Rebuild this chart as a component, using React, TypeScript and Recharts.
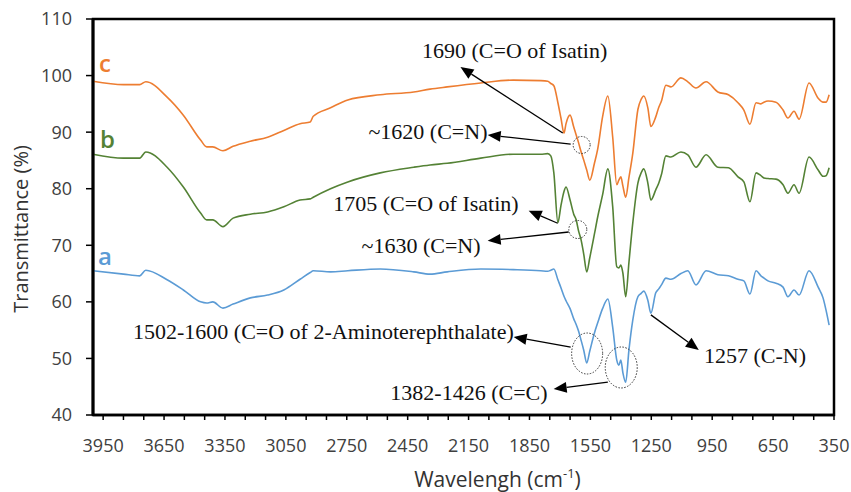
import React from "react";
import {
  LineChart,
  Line,
  XAxis,
  YAxis,
  ReferenceLine,
  ReferenceDot,
  ReferenceArea,
} from "recharts";

// wavenumber (cm-1) sample points, high to low
const wavenumbers = [
  4000, 3850, 3770, 3740, 3635, 3555, 3470, 3440, 3410, 3360,
  3310, 3225, 3140, 3060, 2980, 2930, 2915, 2830, 2745, 2585,
  2420, 2340, 2255, 2090, 1930, 1795, 1760, 1745, 1730, 1710,
  1695, 1680, 1670, 1650, 1632, 1620, 1608, 1598, 1583, 1568,
  1553, 1530, 1514, 1490, 1464, 1440, 1420, 1410, 1400, 1390,
  1376, 1360, 1341, 1316, 1300, 1287, 1267, 1252, 1228, 1213,
  1200, 1178, 1153, 1104, 1070, 1030, 980, 922, 870, 823,
  794, 764, 734, 710, 695, 675, 636, 601, 577, 547,
  522, 473, 428, 404, 389, 374,
];

// a: 2-aminoterephthalate framework
const seriesA = [
  65.5, 64.9, 64.6, 65.6, 63.9, 62.1, 60.0, 59.8, 60.0, 58.9,
  59.6, 60.7, 61.2, 62.1, 64.0, 65.2, 65.5, 65.3, 65.5, 65.8,
  65.3, 64.9, 65.3, 65.8, 65.7, 65.5, 65.4, 65.6, 65.8, 63.9,
  62.5, 61.0, 60.2, 58.8, 57.0, 56.0, 54.8, 53.5, 51.5, 49.2,
  51.3, 54.5, 56.3, 58.8, 60.5, 55.5, 49.7, 48.8, 49.7, 47.5,
  45.8, 51.5, 56.8, 60.9, 61.5, 61.9, 60.3, 58.0, 61.6, 62.3,
  63.0, 64.2, 64.0, 65.0, 65.5, 63.0, 65.5, 64.8, 64.6, 64.0,
  63.7, 61.4, 65.5, 64.6, 64.2, 63.7, 63.3, 62.6, 60.9, 62.1,
  61.2, 65.5, 62.6, 60.7, 58.5, 55.9,
];

// b
const seriesB = [
  86.1, 85.4, 85.4, 86.5, 83.8, 80.3, 75.7, 74.5, 74.5, 73.3,
  74.8, 75.5, 75.9, 76.8, 78.0, 78.2, 78.5, 80.0, 81.2, 82.8,
  83.8, 84.2, 84.5, 85.4, 86.1, 86.1, 86.2, 85.8, 82.8, 74.0,
  77.0, 79.5, 80.3, 78.0, 75.5, 74.5, 72.5, 71.3, 68.5, 65.3,
  67.8, 72.0, 75.0, 78.9, 83.5, 76.8, 66.2, 66.0, 66.5, 65.1,
  60.9, 67.0, 74.0, 81.0, 82.8, 83.5, 81.0, 78.0, 79.8, 81.0,
  82.5, 85.8, 85.6, 86.5, 86.0, 83.8, 86.0, 83.8, 83.7, 82.1,
  81.2, 77.7, 82.8, 82.3, 81.9, 81.8, 81.7, 80.7, 79.2, 80.7,
  79.2, 85.6, 83.3, 82.2, 82.3, 83.7,
];

// c
const seriesC = [
  99.0, 98.4, 98.4, 98.9, 96.2, 93.0, 88.6, 87.4, 87.4, 86.7,
  87.5, 88.4, 89.1, 90.3, 91.5, 91.8, 92.8, 94.3, 95.7, 96.6,
  97.1, 97.6, 98.0, 98.7, 99.2, 99.1, 99.0, 98.6, 98.2, 95.2,
  92.5, 89.8, 91.5, 93.0, 90.9, 89.5, 88.1, 86.8, 85.1, 83.3,
  81.5, 84.5, 87.0, 92.7, 96.4, 89.1, 80.7, 81.5, 82.1, 80.5,
  78.5, 82.0, 86.3, 94.0, 95.8, 96.4, 94.3, 91.0, 92.7, 94.4,
  95.5, 98.3, 98.0, 99.6, 98.9, 97.8, 98.9, 97.1, 96.6, 95.2,
  93.9, 91.4, 95.2, 95.0, 95.3, 95.5, 95.3, 93.9, 92.5, 93.7,
  92.3, 98.7, 96.0, 95.3, 95.3, 96.6,
];

const xTicks = [
  3950, 3850, 3750, 3650, 3550, 3450, 3350, 3250, 3150, 3050,
  2950, 2850, 2750, 2650, 2550, 2450, 2350, 2250, 2150, 2050,
  1950, 1850, 1750, 1650, 1550, 1450, 1350, 1250, 1150, 1050,
  950, 850, 750, 650, 550, 450, 350,
];
const xLabels = [3950, 3650, 3350, 3050, 2750, 2450, 2150, 1850, 1550, 1250, 950, 650, 350];
const yTicks = [40, 50, 60, 70, 80, 90, 100, 110];

// annotation text (anchored at middle of baseline, data units)
const notes = [
  { text: "1690 (C=O of Isatin)", w: 1923, t: 103.1 },
  { text: "~1620 (C=N)", w: 2350, t: 88.8 },
  { text: "1705 (C=O of Isatin)", w: 2360, t: 76.1 },
  { text: "~1630 (C=N)", w: 2384, t: 68.6 },
  { text: "1502-1600 (C=O of 2-Aminoterephthalate)", w: 2865, t: 53.4 },
  { text: "1382-1426 (C=C)", w: 2148, t: 42.65 },
  { text: "1257 (C-N)", w: 739, t: 49.2 },
];

// arrows: tail -> head
const arrows = [
  { w1: 1686, t1: 89.85, w2: 2190, t2: 101.5 },
  { w1: 1647, t1: 87.9, w2: 2056, t2: 89.5 },
  { w1: 1711, t1: 73.9, w2: 1854, t2: 76.1 },
  { w1: 1657, t1: 72.35, w2: 2056, t2: 70.8 },
  { w1: 1647, t1: 52.0, w2: 1928, t2: 53.8 },
  { w1: 1464, t1: 45.8, w2: 1731, t2: 44.6 },
  { w1: 1252, t1: 57.7, w2: 1016, t2: 51.5 },
];

// dotted circles around bands (rx, ry in px)
const rings = [
  { w: 1593, t: 87.73, rx: 8.5, ry: 8.5 },
  { w: 1612, t: 72.79, rx: 9, ry: 9 },
  { w: 1566, t: 50.87, rx: 15.5, ry: 20.5 },
  { w: 1398, t: 48.4, rx: 16, ry: 20.5 },
];

const seriesLabels = [
  { text: "c", w: 3970, t: 100.6, color: "#ED7D31" },
  { text: "b", w: 3965, t: 87.2, color: "#548235" },
  { text: "a", w: 3975, t: 66.5, color: "#5B9BD5" },
];

const data = wavenumbers.map((w, i) => ({
  w,
  a: seriesA[i],
  b: seriesB[i],
  c: seriesC[i],
}));

const SANS = "'Open Sans', sans-serif";
const SERIF = "'Liberation Serif', 'Times New Roman', serif";

const Arrow = (props: any) => {
  const { x1, y1, x2, y2 } = props;
  const ang = Math.atan2(y2 - y1, x2 - x1);
  const len = 13;
  const half = 5.5;
  const bx = x2 - len * Math.cos(ang);
  const by = y2 - len * Math.sin(ang);
  const px = -Math.sin(ang) * half;
  const py = Math.cos(ang) * half;
  return (
    <g>
      <line x1={x1} y1={y1} x2={bx} y2={by} stroke="#000" strokeWidth={1.3} />
      <polygon
        points={`${x2},${y2} ${bx + px},${by + py} ${bx - px},${by - py}`}
        fill="#000"
      />
    </g>
  );
};

const XTick = (props: any) => {
  const { x, y, payload } = props;
  if (!xLabels.includes(payload.value)) return <g />;
  return (
    <text
      x={x}
      y={y + 30}
      textAnchor="middle"
      fontFamily={SANS}
      fontSize={18}
      fill="#404040"
    >
      {payload.value}
    </text>
  );
};

const yTitle = (props: any) => {
  const vb = props.viewBox;
  const cx = 28;
  const cy = vb.y + vb.height / 2 + 12;
  return (
    <text
      x={cx}
      y={cy}
      transform={`rotate(-90, ${cx}, ${cy})`}
      textAnchor="middle"
      fontFamily={SANS}
      fontSize={20}
      fill="#333"
    >
      Transmittance (%)
    </text>
  );
};

const xTitle = (props: any) => {
  const vb = props.viewBox;
  return (
    <text
      x={vb.x + vb.width / 2 + 34}
      y={487}
      textAnchor="middle"
      fontFamily={SANS}
      fontSize={21}
      fill="#333"
    >
      Wavelengh (cm
      <tspan fontSize={13} dy={-9}>
        -1
      </tspan>
      <tspan dy={9}>)</tspan>
    </text>
  );
};

export default function App() {
  return (
    <div style={{ position: "absolute", left: 0, top: 0, background: "#fff" }}>
      <LineChart
        width={851}
        height={492}
        data={data}
        margin={{ top: 19, right: 17, bottom: 0, left: 0 }}
      >
        <XAxis
          dataKey="w"
          type="number"
          domain={[350, 4000]}
          reversed
          ticks={xTicks}
          interval={0}
          tick={<XTick />}
          tickSize={5}
          height={77}
          stroke="#000"
          axisLine={{ stroke: "#000", strokeWidth: 2.5 }}
          tickLine={{ stroke: "#000", strokeWidth: 1.5 }}
          label={{ content: xTitle }}
        />
        <YAxis
          type="number"
          domain={[40, 110]}
          ticks={yTicks}
          interval={0}
          width={93}
          tickSize={7}
          tickMargin={14}
          stroke="#000"
          tick={{ fontFamily: SANS, fontSize: 18, fill: "#404040" }}
          axisLine={{ stroke: "#000", strokeWidth: 3 }}
          tickLine={{ stroke: "#000", strokeWidth: 1.5 }}
          label={{ content: yTitle }}
        />
        <ReferenceArea
          x1={350}
          x2={4000}
          y1={40}
          y2={110}
          fill="none"
          fillOpacity={0}
          stroke="#000"
          strokeOpacity={1}
          strokeWidth={2.5}
          ifOverflow="visible"
        />
        <Line
          dataKey="c"
          type="monotone"
          stroke="#ED7D31"
          strokeWidth={1.6}
          dot={false}
          isAnimationActive={false}
        />
        <Line
          dataKey="b"
          type="monotone"
          stroke="#548235"
          strokeWidth={1.6}
          dot={false}
          isAnimationActive={false}
        />
        <Line
          dataKey="a"
          type="monotone"
          stroke="#5B9BD5"
          strokeWidth={1.6}
          dot={false}
          isAnimationActive={false}
        />
        {arrows.map((a, i) => (
          <ReferenceLine
            key={"ar" + i}
            segment={[
              { x: a.w1, y: a.t1 },
              { x: a.w2, y: a.t2 },
            ]}
            shape={Arrow}
            ifOverflow="visible"
          />
        ))}
        {rings.map((r, i) => (
          <ReferenceDot
            key={"rg" + i}
            x={r.w}
            y={r.t}
            r={r.rx}
            ifOverflow="visible"
            shape={(p: any) => (
              <ellipse
                cx={p.cx}
                cy={p.cy}
                rx={r.rx}
                ry={r.ry}
                fill="none"
                stroke="#333"
                strokeWidth={1}
                strokeDasharray="1.5 1.5"
              />
            )}
          />
        ))}
        {notes.map((n, i) => (
          <ReferenceDot
            key={"nt" + i}
            x={n.w}
            y={n.t}
            r={1}
            ifOverflow="visible"
            shape={(p: any) => (
              <text
                x={p.cx}
                y={p.cy}
                textAnchor="middle"
                fontFamily={SERIF}
                fontSize={22}
                fill="#111"
              >
                {n.text}
              </text>
            )}
          />
        ))}
        {seriesLabels.map((s, i) => (
          <ReferenceDot
            key={"sl" + i}
            x={s.w}
            y={s.t}
            r={1}
            ifOverflow="visible"
            shape={(p: any) => (
              <text
                x={p.cx}
                y={p.cy}
                textAnchor="start"
                fontFamily={SANS}
                fontSize={24}
                fontWeight={600}
                fill={s.color}
              >
                {s.text}
              </text>
            )}
          />
        ))}
      </LineChart>
    </div>
  );
}
